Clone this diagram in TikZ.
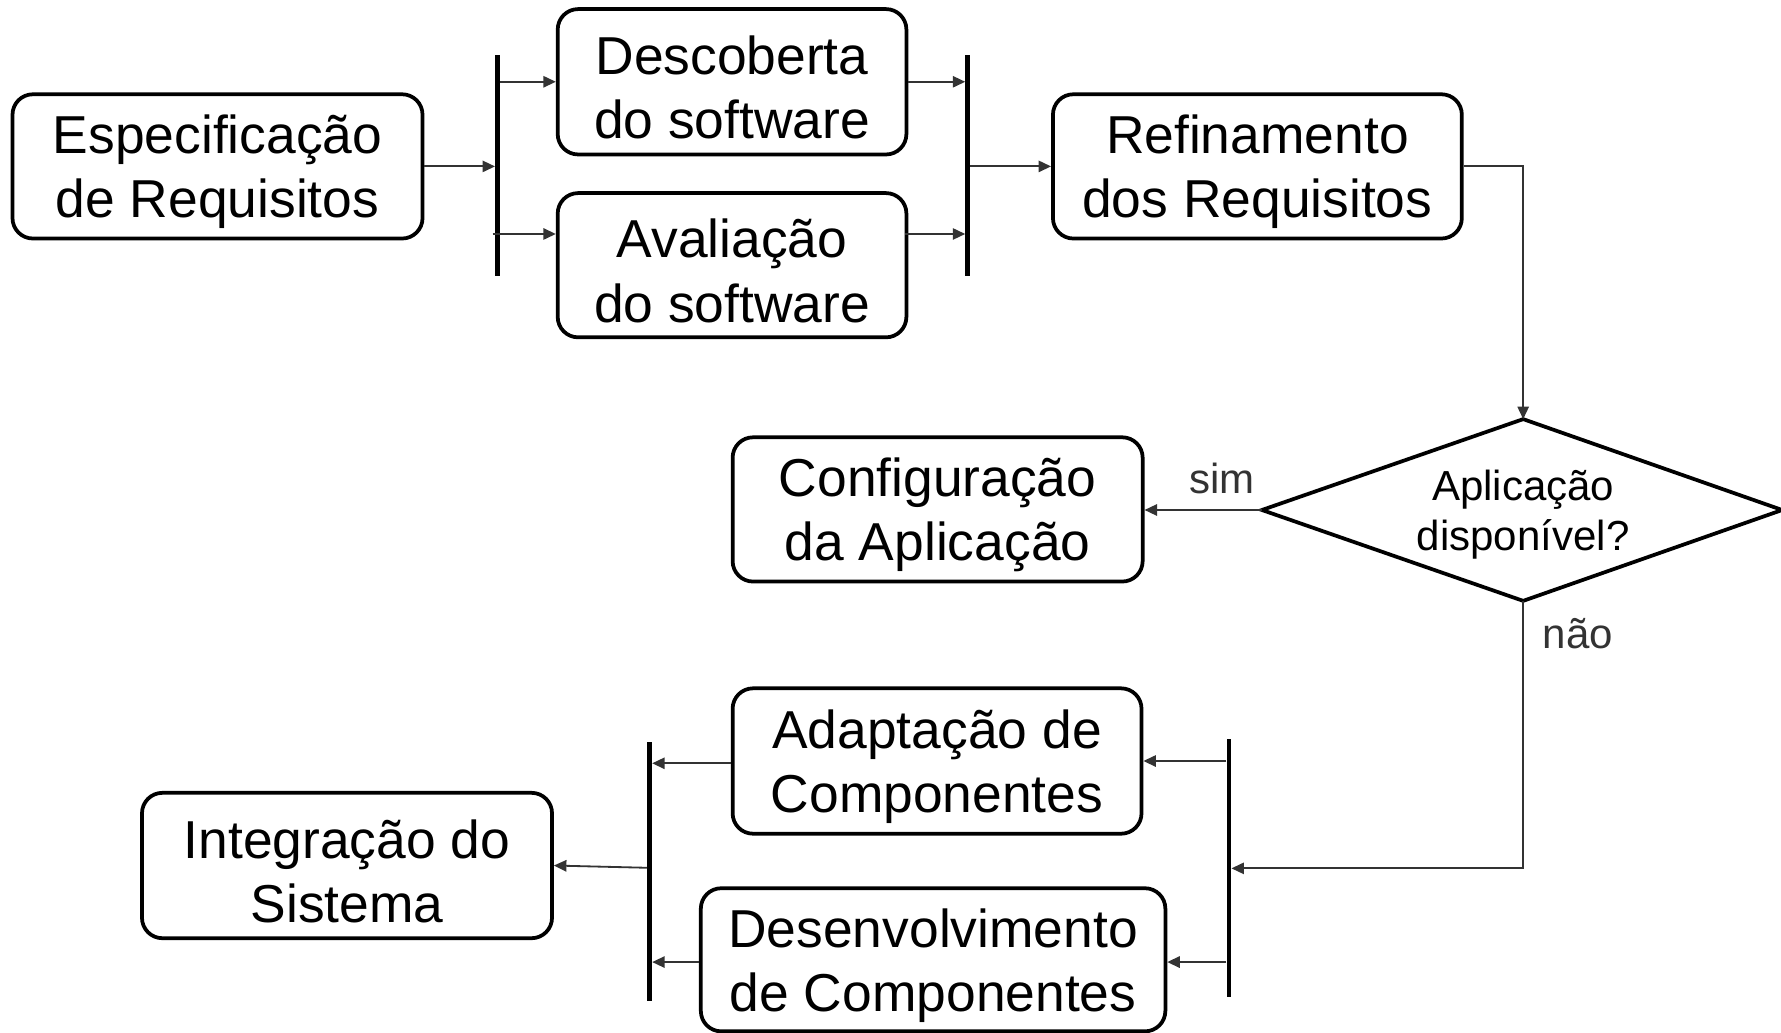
\documentclass[tikz,border=0pt]{standalone}
\usepackage{fontspec}
\setmainfont{Liberation Sans}
\usetikzlibrary{arrows.meta}
\definecolor{linegray}{HTML}{333333}
\begin{document}
\begin{tikzpicture}[x=1pt,y=-1pt,
  box/.style={draw=black,line width=3.3pt,rounded corners=18pt,inner sep=0pt},
  txt/.style={inner sep=0pt,align=center,font=\fontsize{47}{56.4}\selectfont},
  bar/.style={fill=black,inner sep=0pt,minimum width=4pt},
  arr/.style={draw=linegray,line width=1.6pt,-{Triangle[length=11pt,width=10pt]}},
  lbl/.style={text=linegray,font=\fontsize{37}{44}\selectfont,inner sep=0pt}]
\path[use as bounding box] (0,0) rectangle (1568,909);

% boxes
\node[box,minimum width=361pt,minimum height=127pt] (esp) at (191.5,146.5) {};
\node[txt] (esp-t) at ([yshift=-5pt]esp.center) {Especificação\\de Requisitos};
\node[box,minimum width=307pt,minimum height=128pt] (desc) at (644.5,72) {};
\node[txt] (desc-t) at ([yshift=-5pt]desc.center) {Descoberta\\do software};
\node[box,minimum width=307pt,minimum height=127pt] (aval) at (644.5,233.5) {};
\node[txt] (aval-t) at ([yshift=-5pt]aval.center) {Avaliação\\do software};
\node[box,minimum width=360pt,minimum height=127pt] (ref) at (1107,146.5) {};
\node[txt] (ref-t) at ([yshift=-5pt]ref.center) {Refinamento\\dos Requisitos};
\node[box,minimum width=361pt,minimum height=127pt] (conf) at (825.5,448.5) {};
\node[txt] (conf-t) at ([yshift=-5pt]conf.center) {Configuração\\da Aplicação};
\node[box,minimum width=360pt,minimum height=128pt] (adap) at (825,670) {};
\node[txt] (adap-t) at ([yshift=-5pt]adap.center) {Adaptação de\\Componentes};
\node[box,minimum width=409pt,minimum height=126pt] (dev) at (821.5,845) {};
\node[txt] (dev-t) at ([yshift=-5pt]dev.center) {Desenvolvimento\\de Componentes};
\node[box,minimum width=361pt,minimum height=128pt] (integ) at (305.5,762) {};
\node[txt] (integ-t) at ([yshift=-5pt]integ.center) {Integração do\\Sistema};

% bars
\node[bar,minimum height=195pt] (bar1) at (438,145.5) {};
\node[bar,minimum height=195pt] (bar2) at (852,145.5) {};
\node[bar,minimum height=227pt] (bar3) at (1082,764.5) {};
\node[bar,minimum height=228pt] (bar4) at (572,767) {};

% decision diamond
\coordinate (dtop) at (1341,369);
\coordinate (dbottom) at (1341,529);
\coordinate (dleft) at (1111,449);
\coordinate (dright) at (1569,449);
\draw[line width=3.3pt,line join=miter] (dtop) -- (dright) -- (dbottom) -- (dleft) -- cycle;
\node[align=center,inner sep=0pt,font=\fontsize{37}{44}\selectfont] (dtext) at (1341,453.5) {Aplicação\\disponível?};

% connectors
\draw[arr] (esp.east) -- (esp.east -| bar1.west);
\draw[arr] (bar1.east |- desc.west) -- (desc.west);
\coordinate (a2in) at ([yshift=27.5pt]aval.west);
\draw[arr] ([xshift=-2pt]bar1.west |- a2in) -- (a2in);
\draw[arr] (desc.east) -- (desc.east -| bar2.west);
\coordinate (a2out) at ([yshift=27.5pt,xshift=-3pt]aval.east);
\draw[arr] (a2out) -- (a2out -| bar2.west);
\draw[arr] (bar2.east |- ref.west) -- (ref.west);
\draw[arr] (ref.east) -| (dtop);
\draw[arr] (dleft) -- (dleft -| conf.east);
\draw[arr] (dbottom) |- (bar3.east);
\draw[arr] (bar3.west |- adap.east) -- (adap.east);
\coordinate (devin) at ([yshift=-2pt]dev.east);
\draw[arr] (bar3.west |- devin) -- (devin);
\coordinate (adout) at ([yshift=-2pt]adap.west);
\draw[arr] (adout) -- (adout -| bar4.east);
\coordinate (devout) at ([yshift=-2pt]dev.west);
\draw[arr] (devout) -- (devout -| bar4.east);
\draw[arr] ([yshift=3pt]bar4.west) -- (integ.east);

% labels
\node[lbl] (sim) at (1076,421) {sim};
\node[lbl] (nao) at (1389,558) {não};
\end{tikzpicture}
\end{document}
